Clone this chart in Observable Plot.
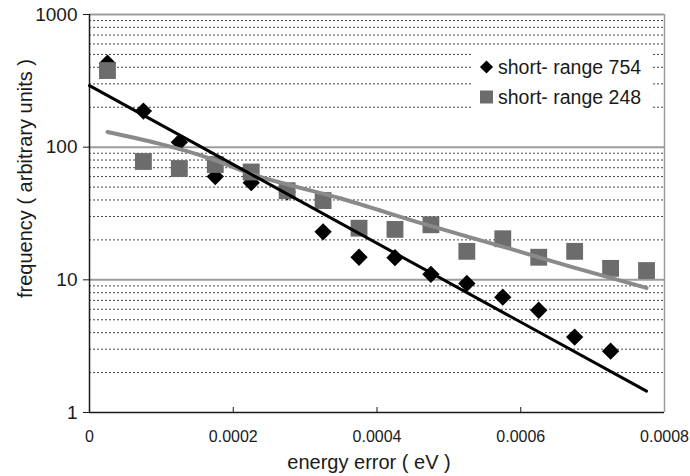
<!DOCTYPE html>
<html>
<head>
<meta charset="utf-8">
<script src="https://cdn.jsdelivr.net/npm/d3@7"></script>
<script src="https://cdn.jsdelivr.net/npm/@observablehq/plot@0.6"></script>
<style>
  body { margin: 0; background: #fff; }
  #chart { position: relative; width: 690px; height: 476px; }
</style>
</head>
<body>
<div id="chart"></div>
<script>
// Histogram bin centres (eV) and frequencies for the two short-range runs
const energy754 = [0.000025, 0.000075, 0.000125, 0.000175, 0.000225, 0.000275, 0.000325, 0.000375,
                   0.000425, 0.000475, 0.000525, 0.000575, 0.000625, 0.000675, 0.000725];
const freq754   = [430, 187, 109, 60, 54, 46, 23, 14.8, 14.7, 11, 9.4, 7.4, 5.9, 3.7, 2.9];

const energy248 = [0.000025, 0.000075, 0.000125, 0.000175, 0.000225, 0.000275, 0.000325, 0.000375,
                   0.000425, 0.000475, 0.000525, 0.000575, 0.000625, 0.000675, 0.000725, 0.000775];
const freq248   = [378, 78, 69, 74, 65, 47, 39.6, 24.5, 24, 26, 16.4, 20.4, 14.8, 16.4, 12.2, 11.75];

// Fitted trend lines
const trend754Energy = [0, 0.000775];
const trend754Freq   = [291, 1.45];
const trend248Energy = [0.000025, 0.000168, 0.000224, 0.00035, 0.000465, 0.000586, 0.000673, 0.000775];
const trend248Freq   = [130, 82, 63, 41, 26.4, 17.1, 12.4, 8.7];

// Axes
const xDomain = [0, 0.0008];
const yDomain = [1, 1000];
const xTicks = [0, 0.0002, 0.0004, 0.0006, 0.0008];
const xTickLabels = ["0", "0.0002", "0.0004", "0.0006", "0.0008"];
const yTicks = [1, 10, 100, 1000];
const yTickLabels = ["1", "10", "100", "1000"];
const majorGrid = [10, 100, 1000];
const minorGrid = [2, 3, 4, 5, 6, 7, 8, 9, 20, 30, 40, 50, 60, 70, 80, 90,
                   200, 300, 400, 500, 600, 700, 800, 900];

const seriesNames = ["short- range 754", "short- range 248"];
const xTitle = "energy error ( eV )";
const yTitle = "frequency ( arbitrary units )";

const pts754 = energy754.map((e, i) => ({e, f: freq754[i]}));
const pts248 = energy248.map((e, i) => ({e, f: freq248[i]}));
const line754 = trend754Energy.map((e, i) => ({e, f: trend754Freq[i]}));
const line248 = trend248Energy.map((e, i) => ({e, f: trend248Freq[i]}));

const xLabel = new Map(xTicks.map((t, i) => [t, xTickLabels[i]]));
const yLabel = new Map(yTicks.map((t, i) => [t, yTickLabels[i]]));

const dark = "#1a1a1a";
const squareGray = "#6c6c6c";
const lineGray = "#8a8a8a";
const gridGray = "#9c9c9c";

const chart = Plot.plot({
  width: 690,
  height: 476,
  marginLeft: 89,
  marginRight: 26,
  marginTop: 14,
  marginBottom: 64,
  style: {fontFamily: "'Liberation Sans', Arial, sans-serif", color: dark, background: "#fff"},
  x: {domain: xDomain, label: null},
  y: {type: "log", domain: yDomain, label: null},
  marks: [
    Plot.ruleY(minorGrid, {stroke: "#444", strokeWidth: 1, strokeDasharray: "2,2"}),
    Plot.ruleY(majorGrid, {stroke: gridGray, strokeWidth: 2}),
    Plot.ruleX([xDomain[1]], {stroke: gridGray, strokeWidth: 1.5}),
    Plot.ruleX(xTicks.slice(1, -1), {stroke: dark, strokeWidth: 1, insetTop: 393}),
    Plot.ruleX([xDomain[0]], {stroke: dark, strokeWidth: 1.5}),
    Plot.ruleY([yDomain[0]], {stroke: dark, strokeWidth: 1.5}),
    Plot.axisY({ticks: yTicks, tickFormat: d => yLabel.get(d), tickSize: 6, tickPadding: 6,
                fontSize: 19, label: null}),
    Plot.axisX({ticks: xTicks, tickFormat: d => xLabel.get(d), tickSize: 0, tickPadding: 18,
                fontSize: 16, label: null}),
    Plot.dot(pts754, {x: "e", y: "f", symbol: "diamond2", r: 7.8, fill: "#000", stroke: "none"}),
    Plot.dot(pts248, {x: "e", y: "f", symbol: "square", r: 9.5, fill: squareGray, stroke: "none"}),
    Plot.line(line248, {x: "e", y: "f", stroke: lineGray, strokeWidth: 4, curve: "monotone-x"}),
    Plot.line(line754, {x: "e", y: "f", stroke: "#000", strokeWidth: 3}),
    Plot.text([xTitle], {text: d => d, frameAnchor: "bottom", dx: -8, dy: 50, fontSize: 20,
                         textAnchor: "middle", lineAnchor: "middle", fill: dark}),
    Plot.text([yTitle], {text: d => d, frameAnchor: "left", dx: -64, dy: -35, rotate: -90, fontSize: 20,
                         textAnchor: "middle", lineAnchor: "middle", fill: dark})
  ]
});

document.getElementById("chart").appendChild(chart);

// Legend box in the upper right of the frame
const svg = d3.select(chart);
const legend = svg.append("g")
  .attr("transform", "translate(472,47)")
  .attr("text-anchor", "start");
legend.append("rect")
  .attr("width", 181).attr("height", 68)
  .style("fill", "#ffffff").style("stroke", "none");
const rows = [
  {name: seriesNames[0], shape: d3.symbolDiamond2, size: 110, fill: "#000", y: 20},
  {name: seriesNames[1], shape: d3.symbolSquare, size: 169, fill: squareGray, y: 50}
];
rows.forEach(r => {
  legend.append("path")
    .attr("d", d3.symbol(r.shape, r.size)())
    .attr("transform", `translate(14.5,${r.y})`)
    .style("fill", r.fill);
  legend.append("text")
    .attr("x", 26).attr("y", r.y).attr("dy", "0.35em")
    .attr("text-anchor", "start")
    .attr("font-size", 19.5)
    .style("fill", dark)
    .text(r.name);
});
</script>
</body>
</html>
